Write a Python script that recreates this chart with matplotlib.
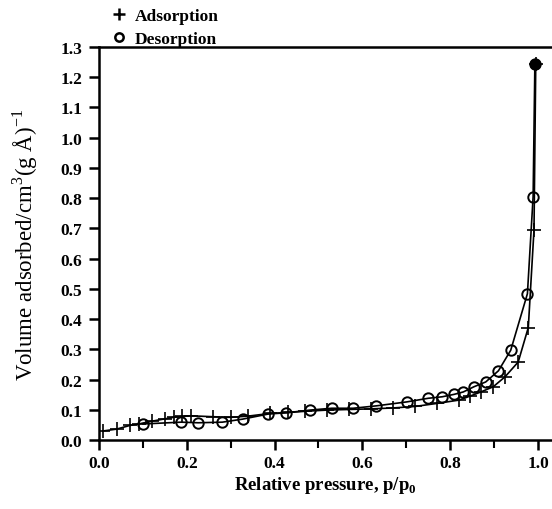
import matplotlib
matplotlib.use("Agg")
import matplotlib.pyplot as plt
from matplotlib.lines import Line2D
from matplotlib.ticker import MultipleLocator

plt.rcParams['font.family'] = ['Liberation Serif', 'DejaVu Serif']
plt.rcParams['mathtext.fontset'] = 'custom'
plt.rcParams['mathtext.rm'] = 'Liberation Serif'
plt.rcParams['mathtext.bf'] = 'Liberation Serif:bold'

# Adsorption branch (crosses)
ads_p = [0.01, 0.04, 0.07, 0.09, 0.12, 0.15, 0.17, 0.19, 0.21, 0.26, 0.30, 0.34,
         0.39, 0.43, 0.47, 0.52, 0.57, 0.62, 0.67, 0.72, 0.77, 0.82, 0.845, 0.87,
         0.898, 0.925, 0.955, 0.978, 0.991, 0.995]
ads_v = [0.030, 0.036, 0.048, 0.053, 0.062, 0.070, 0.075, 0.078, 0.080, 0.077, 0.075, 0.079,
         0.088, 0.091, 0.095, 0.099, 0.101, 0.103, 0.106, 0.111, 0.121, 0.132, 0.145, 0.159,
         0.176, 0.209, 0.258, 0.372, 0.695, 1.245]

# Desorption branch (circles)
des_p = [0.10, 0.187, 0.226, 0.281, 0.327, 0.386, 0.427, 0.481, 0.530, 0.579, 0.632,
         0.701, 0.750, 0.782, 0.809, 0.830, 0.854, 0.881, 0.910, 0.938, 0.976, 0.989, 0.993]
des_v = [0.053, 0.059, 0.057, 0.059, 0.069, 0.086, 0.090, 0.099, 0.105, 0.105, 0.113,
         0.126, 0.138, 0.143, 0.151, 0.159, 0.176, 0.192, 0.229, 0.297, 0.484, 0.805, 1.245]

x_ticks = [0.0, 0.2, 0.4, 0.6, 0.8, 1.0]
y_ticks = [0.0, 0.1, 0.2, 0.3, 0.4, 0.5, 0.6, 0.7, 0.8, 0.9, 1.0, 1.1, 1.2, 1.3]

fig = plt.figure(figsize=(5.52, 5.10), dpi=100)
ax = fig.add_axes([99/552, 69/510, 453/552, 393/510])

ax.plot(ads_p, ads_v, color='black', lw=1.2, marker='+', ms=10, mew=1.2, zorder=3)
ax.plot(des_p, des_v, color='black', lw=1.2, marker='o', ms=7.5, mew=1.4,
        mfc='none', zorder=3)
ax.plot(des_p[-1:], des_v[-1:], ls='none', marker='o', ms=7, color='black', zorder=4)

ax.set_xlim(0, 1.032)
ax.set_ylim(0, 1.3)
ax.set_xticks(x_ticks)
ax.set_xticklabels([f"{t:.1f}" for t in x_ticks])
ax.xaxis.set_minor_locator(MultipleLocator(0.1))
ax.set_yticks(y_ticks)
ax.set_yticklabels([f"{t:.1f}" for t in y_ticks])

for s in ['left', 'bottom', 'top']:
    ax.spines[s].set_linewidth(1.8)
ax.spines['right'].set_visible(False)

ax.tick_params(axis='both', which='major', direction='out', length=7, width=1.8,
               labelsize=12.5)
ax.tick_params(axis='x', which='minor', direction='out', length=6, width=1.5)
ax.tick_params(axis='x', which='major', pad=4)
ax.tick_params(axis='y', which='major', pad=5)
for lab in ax.get_xticklabels() + ax.get_yticklabels():
    lab.set_fontweight('bold')

ax.set_xlabel(r"Relative pressure, p/p$_\mathbf{0}$", fontsize=13.5, fontweight='bold',
              labelpad=2)
ax.set_ylabel(r"Volume adsorbed/cm$^3$(g $\mathrm{\AA}$)$^{-1}$", fontsize=16.5,
              labelpad=15)

handles = [Line2D([], [], ls='none', marker='+', ms=8, mew=1.8, color='black'),
           Line2D([], [], ls='none', marker='o', ms=6, mew=1.8, mfc='none', color='black')]
leg = fig.legend(handles, ['Adsorption', 'Desorption'], loc='upper left',
                 bbox_to_anchor=(105/552, 1.0 - 2/510), frameon=False, handlelength=0.8,
                 handletextpad=0.5, labelspacing=0.4, borderaxespad=0.0,
                 prop={'weight': 'bold', 'size': 12.5})

fig.savefig("out.png", dpi=100)
